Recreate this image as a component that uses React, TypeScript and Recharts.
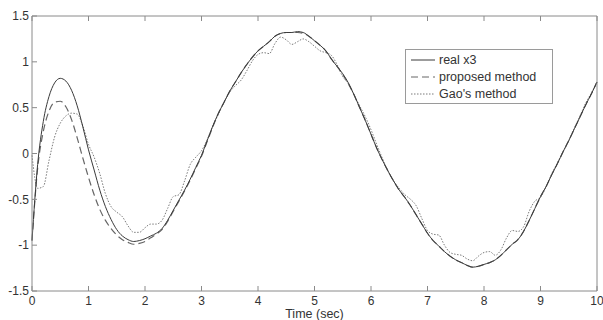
import React from "react";
import { LineChart, Line, XAxis, YAxis } from "recharts";

// sampled every 0.1 s from 0 to 10 s
const realX3 = [
  -0.95, -0.12, 0.35, 0.62, 0.77, 0.82, 0.79, 0.69, 0.52, 0.29,
  0.04, -0.18, -0.4, -0.58, -0.72, -0.83, -0.9, -0.94, -0.96, -0.95,
  -0.93, -0.9, -0.87, -0.82, -0.73, -0.62, -0.51, -0.4, -0.28, -0.15,
  -0.02, 0.14, 0.3, 0.44, 0.56, 0.68, 0.78, 0.88, 0.97, 1.05,
  1.12, 1.17, 1.22, 1.28, 1.31, 1.32, 1.32, 1.33, 1.32, 1.28,
  1.23, 1.18, 1.12, 1.03, 0.95, 0.87, 0.77, 0.64, 0.5, 0.36,
  0.21, 0.06, -0.07, -0.19, -0.3, -0.4, -0.48, -0.57, -0.67, -0.77,
  -0.87, -0.95, -1.01, -1.07, -1.12, -1.16, -1.19, -1.22, -1.24, -1.23,
  -1.21, -1.19, -1.16, -1.11, -1.05, -0.99, -0.94, -0.85, -0.73, -0.6,
  -0.47, -0.36, -0.23, -0.11, 0.02, 0.14, 0.27, 0.4, 0.53, 0.65,
  0.78,
];

const proposed = [
  -0.95, -0.16, 0.24, 0.46, 0.56, 0.57, 0.51, 0.37, 0.17, -0.05,
  -0.26, -0.45, -0.61, -0.73, -0.82, -0.89, -0.94, -0.97, -0.99, -0.98,
  -0.96, -0.92, -0.88, -0.83, -0.74, -0.63, -0.52, -0.41, -0.29, -0.16,
  -0.03, 0.13, 0.29, 0.44, 0.56, 0.68, 0.78, 0.88, 0.97, 1.05,
  1.12, 1.17, 1.22, 1.28, 1.31, 1.32, 1.32, 1.32, 1.31, 1.28,
  1.23, 1.18, 1.12, 1.03, 0.95, 0.86, 0.76, 0.64, 0.5, 0.36,
  0.21, 0.06, -0.07, -0.19, -0.3, -0.4, -0.48, -0.57, -0.67, -0.77,
  -0.87, -0.95, -1.01, -1.07, -1.12, -1.16, -1.19, -1.22, -1.24, -1.23,
  -1.21, -1.19, -1.16, -1.11, -1.05, -0.99, -0.94, -0.85, -0.73, -0.6,
  -0.47, -0.36, -0.23, -0.11, 0.02, 0.14, 0.27, 0.4, 0.53, 0.65,
  0.78,
];

const gaoMethod = [
  -0.02, -0.38, -0.36, -0.08, 0.18, 0.33, 0.41, 0.44, 0.43, 0.3,
  0.1, -0.04, -0.22, -0.44, -0.58, -0.64, -0.69, -0.79, -0.86, -0.86,
  -0.81, -0.77, -0.77, -0.73, -0.6, -0.47, -0.45, -0.3, -0.12, -0.04,
  0.03, 0.15, 0.3, 0.43, 0.56, 0.67, 0.74, 0.8, 0.9, 1.01,
  1.08, 1.1, 1.09, 1.2, 1.27, 1.24, 1.19, 1.22, 1.25, 1.22,
  1.17, 1.12, 1.1, 1.07, 0.97, 0.84, 0.76, 0.64, 0.52, 0.4,
  0.26, 0.1, -0.05, -0.19, -0.3, -0.38, -0.45, -0.5, -0.57, -0.71,
  -0.84, -0.88, -0.89, -1.0, -1.08, -1.1, -1.11, -1.15, -1.17, -1.12,
  -1.08, -1.07, -1.11, -1.05, -0.92, -0.84, -0.85, -0.8, -0.63, -0.52,
  -0.48, -0.36, -0.22, -0.1, 0.02, 0.14, 0.28, 0.41, 0.55, 0.66,
  0.78,
];

const xTicks = [0, 1, 2, 3, 4, 5, 6, 7, 8, 9, 10];
const yTicks = [-1.5, -1, -0.5, 0, 0.5, 1, 1.5];

const data = realX3.map((v, i) => ({
  t: Number((i * 0.1).toFixed(1)),
  real: v,
  proposed: proposed[i],
  gao: gaoMethod[i],
}));

const FONT = "'Liberation Sans', Arial, sans-serif";
const AXIS = "#8a8a8a";
const TEXT = "#333";

const legendItems = [
  { name: "real x3", color: "#3a3a3a", dash: "" },
  { name: "proposed method", color: "#666", dash: "7 4" },
  { name: "Gao's method", color: "#7a7a7a", dash: "1.5 1.5" },
];

function LegendBox() {
  return (
    <div
      style={{
        position: "absolute",
        left: 405,
        top: 49,
        width: 148,
        height: 55,
        border: "1px solid #9a9a9a",
        background: "#fff",
        fontFamily: FONT,
        fontSize: 12.5,
        color: TEXT,
        boxSizing: "border-box",
        paddingTop: 1,
      }}
    >
      {legendItems.map((it) => (
        <div key={it.name} style={{ display: "flex", alignItems: "center", height: 17 }}>
          <svg width={29} height={10} style={{ marginLeft: 4 }}>
            <line x1={1} y1={5} x2={25} y2={5} stroke={it.color} strokeWidth={1} strokeDasharray={it.dash} />
          </svg>
          <span style={{ whiteSpace: "nowrap" }}>{it.name}</span>
        </div>
      ))}
    </div>
  );
}

export default function App() {
  return (
    <div style={{ position: "absolute", left: 0, top: 0, width: 603, height: 320, background: "#fff" }}>
      <LineChart width={603} height={320} data={data} margin={{ top: 15, right: 5, left: 0, bottom: 0 }}>
        <XAxis
          dataKey="t"
          type="number"
          domain={[0, 10]}
          ticks={xTicks}
          height={29}
          stroke={AXIS}
          tickSize={-5}
          tickMargin={10}
          tick={{ fontSize: 12, fill: TEXT, fontFamily: FONT }}
          label={{ value: "Time (sec)", position: "insideBottom", offset: 2, fontSize: 12.5, fill: TEXT, fontFamily: FONT }}
        />
        <XAxis
          xAxisId="top"
          orientation="top"
          dataKey="t"
          type="number"
          domain={[0, 10]}
          ticks={xTicks}
          height={1}
          stroke={AXIS}
          tickSize={-5}
          tickFormatter={() => ""}
        />
        <YAxis
          type="number"
          domain={[-1.5, 1.5]}
          ticks={yTicks}
          width={32}
          stroke={AXIS}
          tickSize={-5}
          tickMargin={8}
          tick={{ fontSize: 12, fill: TEXT, fontFamily: FONT }}
        />
        <YAxis
          yAxisId="right"
          orientation="right"
          type="number"
          domain={[-1.5, 1.5]}
          ticks={yTicks}
          width={1}
          stroke={AXIS}
          tickSize={-5}
          tickFormatter={() => ""}
        />
        <Line
          type="monotone"
          dataKey="gao"
          stroke="#7a7a7a"
          strokeWidth={1}
          strokeDasharray="1.5 1.5"
          dot={false}
          isAnimationActive={false}
        />
        <Line
          type="monotone"
          dataKey="proposed"
          stroke="#666"
          strokeWidth={1.2}
          strokeDasharray="7 4"
          dot={false}
          isAnimationActive={false}
        />
        <Line
          type="monotone"
          dataKey="real"
          stroke="#3a3a3a"
          strokeWidth={1}
          dot={false}
          isAnimationActive={false}
        />
      </LineChart>
      <LegendBox />
    </div>
  );
}
